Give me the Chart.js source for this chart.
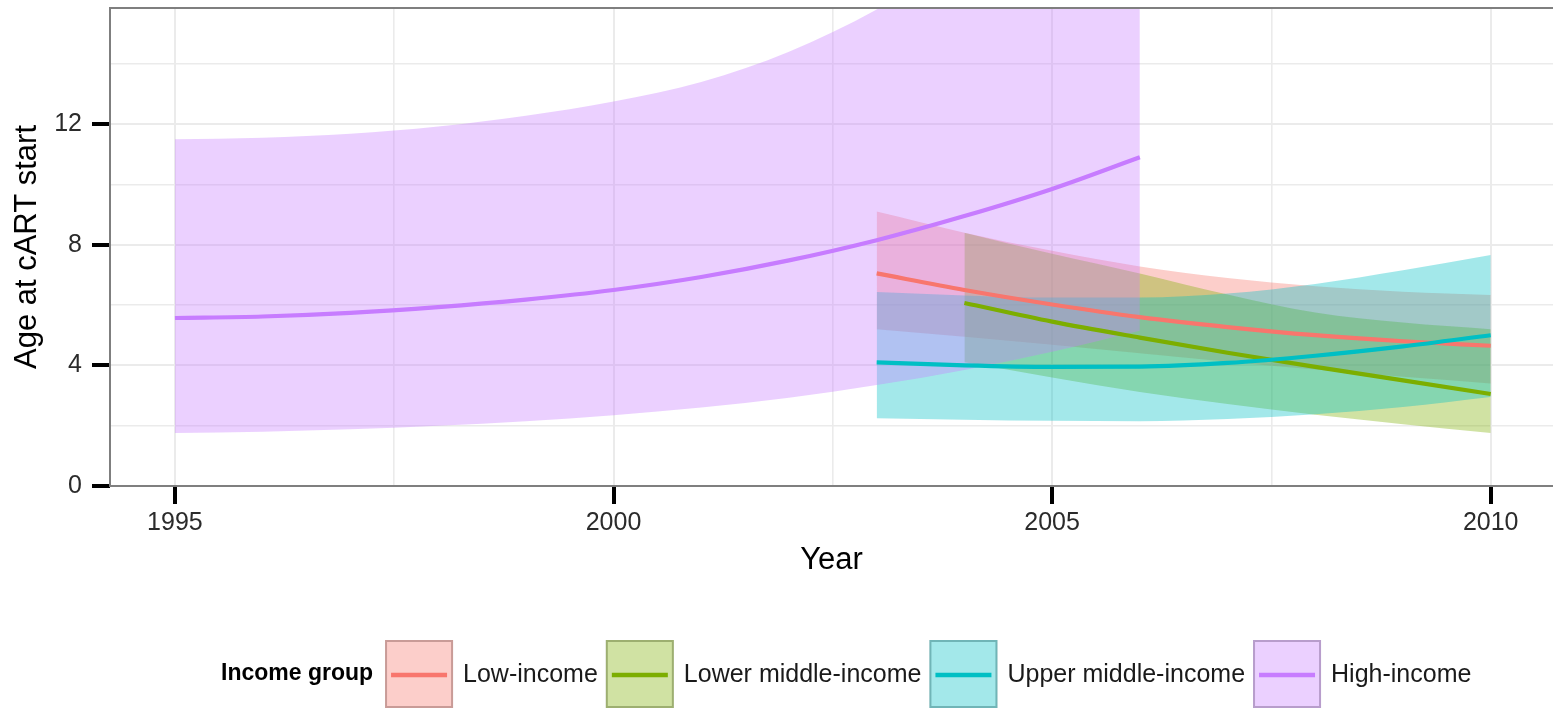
<!DOCTYPE html>
<html>
<head>
<meta charset="utf-8">
<title>Age at cART start by income group</title>
<script src="https://cdn.jsdelivr.net/npm/chart.js@4/dist/chart.umd.min.js"></script>
<style>
  html, body { margin: 0; padding: 0; background: #ffffff; overflow: hidden; }
  #wrap { width: 1553px; height: 711px; position: relative; }
</style>
</head>
<body>
<div id="wrap"><canvas id="chart" width="1553" height="711"></canvas></div>
<script>
// ---- data ----
const groups = ['Low-income', 'Lower middle-income', 'Upper middle-income', 'High-income'];
const groupColors = ['#F8766D', '#7CAE00', '#00BFC4', '#C77CFF'];

const lowYears  = [2003, 2004, 2005, 2006, 2007, 2008, 2009, 2010];
const lowFit    = [7.05, 6.50, 6.02, 5.60, 5.27, 5.00, 4.80, 4.65];
const lowLower  = [5.20, 4.95, 4.68, 4.40, 4.12, 3.86, 3.62, 3.40];
const lowUpper  = [9.10, 8.40, 7.80, 7.28, 6.90, 6.62, 6.44, 6.33];

const lowerMidYears = [2004, 2005, 2006, 2007, 2008, 2009, 2010];
const lowerMidFit   = [6.07, 5.45, 4.92, 4.42, 3.95, 3.50, 3.05];
const lowerMidLower = [4.10, 3.60, 3.12, 2.72, 2.36, 2.05, 1.76];
const lowerMidUpper = [8.40, 7.70, 7.05, 6.35, 5.75, 5.42, 5.20];

const upperMidYears = [2003, 2004, 2005, 2006, 2007, 2008, 2009, 2010];
const upperMidFit   = [4.10, 4.00, 3.95, 3.96, 4.08, 4.32, 4.63, 5.00];
const upperMidLower = [2.25, 2.20, 2.16, 2.15, 2.22, 2.38, 2.62, 2.95];
const upperMidUpper = [6.43, 6.32, 6.25, 6.25, 6.38, 6.70, 7.15, 7.66];

const highYears = [1995, 1996, 1997, 1998, 1999, 2000, 2001, 2002, 2003, 2004, 2005, 2006];
const highFit   = [5.57, 5.62, 5.74, 5.93, 6.18, 6.50, 6.93, 7.48, 8.15, 8.95, 9.85, 10.90];
const highLower = [1.76, 1.80, 1.88, 2.00, 2.15, 2.35, 2.60, 2.93, 3.35, 3.85, 4.45, 5.15];
const highUpper = [11.50, 11.55, 11.68, 11.92, 12.28, 12.75, 13.40, 14.40, 15.80, 17.60, 20.00, 23.00];

const xTickValues = [1995, 1997.5, 2000, 2002.5, 2005, 2007.5, 2010];
const xTickLabels = ['1995', '', '2000', '', '2005', '', '2010'];
const yTickValues = [0, 2, 4, 6, 8, 10, 12, 14];
const yTickLabels = ['0', '', '4', '', '8', '', '12', ''];

const legendTitle = 'Income group';
const xTitle = 'Year';
const yTitle = 'Age at cART start';

// ---- helpers ----
const FONT = '"Liberation Sans", Arial, Helvetica, sans-serif';
const RIBBON_ALPHA = 0.36;

function rgba(hex, a) {
  const n = parseInt(hex.slice(1), 16);
  return `rgba(${(n >> 16) & 255},${(n >> 8) & 255},${n & 255},${a})`;
}
function pts(xs, ys) { return xs.map((x, i) => ({ x: x, y: ys[i] })); }

const series = [
  { years: lowYears,      fit: lowFit,      lower: lowLower,      upper: lowUpper },
  { years: lowerMidYears, fit: lowerMidFit, lower: lowerMidLower, upper: lowerMidUpper },
  { years: upperMidYears, fit: upperMidFit, lower: upperMidLower, upper: upperMidUpper },
  { years: highYears,     fit: highFit,     lower: highLower,     upper: highUpper }
];

// Lines first, then ribbon pairs (upper filled down to its lower partner).
// "order" makes ribbons paint first (Low -> High), then lines (Low -> High).
const datasets = [];
series.forEach((s, i) => {
  datasets.push({
    label: groups[i],
    data: pts(s.years, s.fit),
    borderColor: groupColors[i],
    borderWidth: 4.2,
    pointRadius: 0,
    fill: false,
    cubicInterpolationMode: 'monotone',
    order: 4 - i
  });
});
series.forEach((s, i) => {
  datasets.push({
    label: groups[i] + ' upper',
    data: pts(s.years, s.upper),
    borderColor: 'rgba(0,0,0,0)',
    borderWidth: 0,
    pointRadius: 0,
    backgroundColor: rgba(groupColors[i], RIBBON_ALPHA),
    fill: '+1',
    cubicInterpolationMode: 'monotone',
    order: 8 - i
  });
  datasets.push({
    label: groups[i] + ' lower',
    data: pts(s.years, s.lower),
    borderColor: 'rgba(0,0,0,0)',
    borderWidth: 0,
    pointRadius: 0,
    fill: false,
    cubicInterpolationMode: 'monotone',
    order: 8 - i
  });
});

// Panel border (left, top, bottom) drawn over the data.
const panelBorder = {
  id: 'panelBorder',
  afterDatasetsDraw(chart) {
    const { ctx, chartArea: a } = chart;
    ctx.save();
    ctx.strokeStyle = '#7f7f7f';
    ctx.lineWidth = 2;
    ctx.beginPath();
    ctx.moveTo(a.right + 2, a.top);
    ctx.lineTo(a.left, a.top);
    ctx.lineTo(a.left, a.bottom);
    ctx.lineTo(a.right + 2, a.bottom);
    ctx.stroke();
    ctx.restore();
  }
};

// Horizontal legend with a filled key and a line through it.
const incomeLegend = {
  id: 'incomeLegend',
  afterDraw(chart) {
    const ctx = chart.ctx;
    const cy = 674;
    const key = 68;
    ctx.save();
    ctx.textBaseline = 'middle';
    ctx.fillStyle = '#000';
    ctx.font = `bold 23px ${FONT}`;
    let x = 221;
    ctx.fillText(legendTitle, x, cy);
    x += ctx.measureText(legendTitle).width + 12;
    ctx.font = `25px ${FONT}`;
    groups.forEach((g, i) => {
      const top = cy - key / 2;
      ctx.fillStyle = '#ffffff';
      ctx.fillRect(x, top, key, key);
      ctx.strokeStyle = 'rgba(150,150,150,0.75)';
      ctx.lineWidth = 2;
      ctx.strokeRect(x + 1, top + 1, key - 2, key - 2);
      ctx.fillStyle = rgba(groupColors[i], RIBBON_ALPHA);
      ctx.fillRect(x, top, key, key);
      ctx.strokeStyle = groupColors[i];
      ctx.lineWidth = 4.5;
      ctx.beginPath();
      ctx.moveTo(x + 6, cy + 1);
      ctx.lineTo(x + key - 6, cy + 1);
      ctx.stroke();
      x += key + 10;
      ctx.fillStyle = '#1a1a1a';
      ctx.fillText(g, x, cy + 1);
      x += ctx.measureText(g).width + 8;
    });
    ctx.restore();
  }
};

new Chart(document.getElementById('chart'), {
  type: 'line',
  data: { datasets: datasets },
  plugins: [panelBorder, incomeLegend],
  options: {
    responsive: false,
    devicePixelRatio: 1,
    animation: false,
    events: [],
    layout: { padding: { top: 8, right: 0, bottom: 131, left: 0 } },
    plugins: {
      legend: { display: false },
      tooltip: { enabled: false },
      filler: { propagate: false }
    },
    scales: {
      x: {
        type: 'linear',
        min: 1994.26,
        max: 2010.71,
        afterBuildTicks(scale) { scale.ticks = xTickValues.map(v => ({ value: v })); },
        afterFit(scale) {
          scale.height = 94;
          scale.paddingLeft = 0;
          scale.paddingRight = 0;
        },
        border: { display: false },
        grid: {
          color: '#ebebeb',
          lineWidth: ctx => (ctx.tick && xTickLabels[xTickValues.indexOf(ctx.tick.value)] !== '' ? 2 : 1.6),
          drawTicks: true,
          tickLength: 18,
          tickWidth: 4,
          tickColor: ctx => (ctx.tick && xTickLabels[xTickValues.indexOf(ctx.tick.value)] !== '' ? '#000000' : 'rgba(0,0,0,0)')
        },
        ticks: {
          autoSkip: false,
          maxRotation: 0,
          padding: 4,
          color: '#2b2b2b',
          font: { family: FONT, size: 25 },
          callback: v => { const k = xTickValues.indexOf(v); return k >= 0 ? xTickLabels[k] : ''; }
        },
        title: {
          display: true,
          text: xTitle,
          color: '#000',
          font: { family: FONT, size: 31 },
          padding: { top: 0, bottom: 1 }
        }
      },
      y: {
        type: 'linear',
        min: 0,
        max: 15.85,
        afterBuildTicks(scale) { scale.ticks = yTickValues.map(v => ({ value: v })); },
        afterFit(scale) {
          scale.width = 110;
          scale.paddingTop = 0;
          scale.paddingBottom = 0;
        },
        border: { display: false },
        grid: {
          color: '#ebebeb',
          lineWidth: ctx => (ctx.tick && yTickLabels[yTickValues.indexOf(ctx.tick.value)] !== '' ? 2 : 1.6),
          drawTicks: true,
          tickLength: 18,
          tickWidth: 4,
          tickColor: ctx => (ctx.tick && yTickLabels[yTickValues.indexOf(ctx.tick.value)] !== '' ? '#000000' : 'rgba(0,0,0,0)')
        },
        ticks: {
          autoSkip: false,
          padding: 10,
          color: '#2b2b2b',
          font: { family: FONT, size: 25 },
          callback: v => { const k = yTickValues.indexOf(v); return k >= 0 ? yTickLabels[k] : ''; }
        },
        title: {
          display: true,
          text: yTitle,
          color: '#000',
          font: { family: FONT, size: 31 },
          padding: { top: 9, bottom: 0 }
        }
      }
    }
  }
});
</script>
</body>
</html>
